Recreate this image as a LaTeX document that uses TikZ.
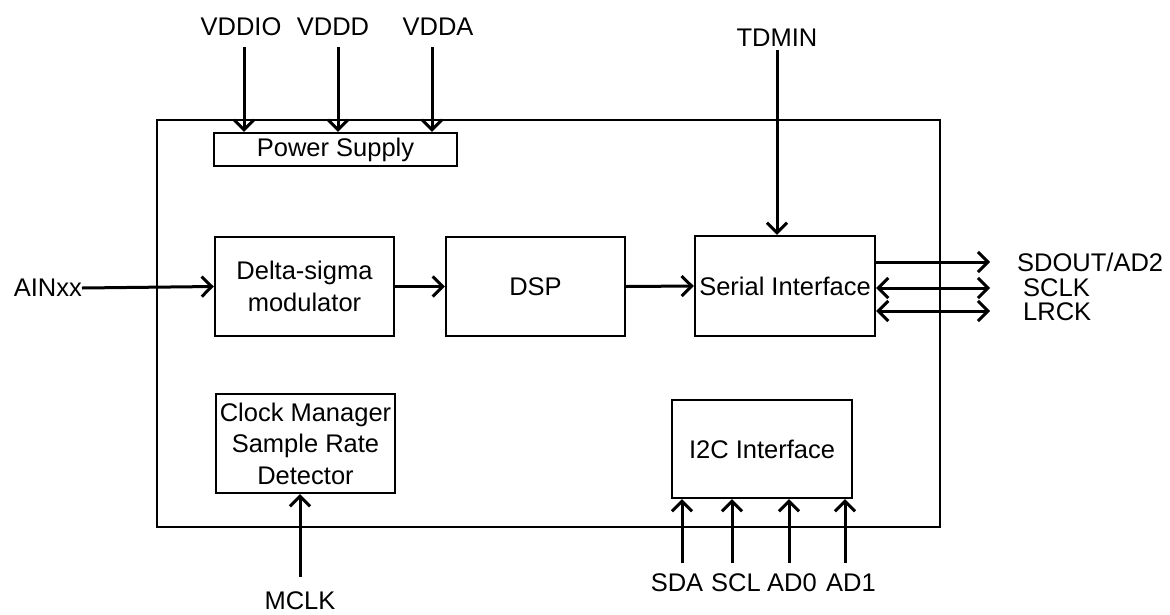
\documentclass[tikz,border=0pt]{standalone}
\usepackage{fontspec}
\setmainfont{Liberation Sans}
\usetikzlibrary{arrows.meta}
\begin{document}
\begin{tikzpicture}[x=1pt,y=-1pt,
  box/.style={draw, line width=2.4pt, inner sep=0pt, align=center},
  lbl/.style={inner sep=0pt, align=center},
  arr/.style={line width=3pt, -{Straight Barb[length=10pt,width=20pt]}},
  darr/.style={line width=3pt, {Straight Barb[length=10pt,width=20pt]}-{Straight Barb[length=10pt,width=20pt]}},
  every node/.style={font=\fontsize{25.5}{31.5}\selectfont}]
\useasboundingbox (0,0) rectangle (1170,614);
% boxes
\node[box, minimum width=783pt, minimum height=407pt] (outer) at (548.5,323.5) {};
\node[box, minimum width=243pt, minimum height=33pt] (ps) at (335.5,149.5) {Power Supply};
\node[box, minimum width=179pt, minimum height=99pt] (ds) at (304.5,286.5) {Delta-sigma\\modulator};
\node[box, minimum width=179pt, minimum height=99pt] (dsp) at (535.5,286.5) {DSP};
\node[box, minimum width=180pt, minimum height=100pt] (si) at (785,286) {Serial Interface};
\node[box, minimum width=179pt, minimum height=99pt] (cm) at (305.5,443.5) {Clock Manager\\Sample Rate\\Detector};
\node[box, minimum width=180pt, minimum height=98pt] (i2c) at (762,449) {I2C Interface};
% labels
\node[lbl] (vddio) at (241,27) {VDDIO};
\node[lbl] (vddd) at (333,27) {VDDD};
\node[lbl] (vdda) at (438,27) {VDDA};
\node[lbl] (tdmin) at (777,38) {TDMIN};
\node[lbl, anchor=east] (ain) at (82,288) {AINxx};
\node[lbl, anchor=west] (sdout) at (1017,262) {SDOUT/AD2};
\node[lbl, anchor=west] (sclk) at (1023,288) {SCLK};
\node[lbl, anchor=west] (lrck) at (1023,312) {LRCK};
\node[lbl] (mclk) at (300,601) {MCLK};
\node[lbl] (sda) at (677,583) {SDA};
\node[lbl] (scl) at (736,583) {SCL};
\node[lbl] (ad0) at (792,583) {AD0};
\node[lbl] (ad1) at (851,583) {AD1};
% coordinates for free ends
\coordinate (vddioT) at (244,47);
\coordinate (vdddT) at (338,47);
\coordinate (vddaT) at (432,47);
\coordinate (tdminT) at (777,50);
\coordinate (sdT) at (990,262);
\coordinate (sclkT) at (990,288);
\coordinate (lrckT) at (990,311);
\coordinate (mclkB) at (300,577);
\coordinate (sdaB) at (682,563);
\coordinate (sclB) at (732,563);
\coordinate (ad0B) at (789,563);
\coordinate (ad1B) at (845,563);
% connectors
\draw[arr] (vddioT) -- (vddioT |- ps.north);
\draw[arr] (vdddT) -- (vdddT |- ps.north);
\draw[arr] (vddaT) -- (vddaT |- ps.north);
\draw[arr] (tdminT) -- (tdminT |- si.north);
\draw[arr] (ain.east) -- (ds.west);
\draw[arr] (ds.east) -- (dsp.west);
\draw[arr] (dsp.east) -- (si.west);
\draw[arr] (si.east |- sdT) -- (sdT);
\draw[darr] (si.east |- sclkT) -- (sclkT);
\draw[darr] (si.east |- lrckT) -- (lrckT);
\draw[arr] (mclkB) -- (mclkB |- cm.south);
\draw[arr] (sdaB) -- (sdaB |- i2c.south);
\draw[arr] (sclB) -- (sclB |- i2c.south);
\draw[arr] (ad0B) -- (ad0B |- i2c.south);
\draw[arr] (ad1B) -- (ad1B |- i2c.south);
\end{tikzpicture}
\end{document}
